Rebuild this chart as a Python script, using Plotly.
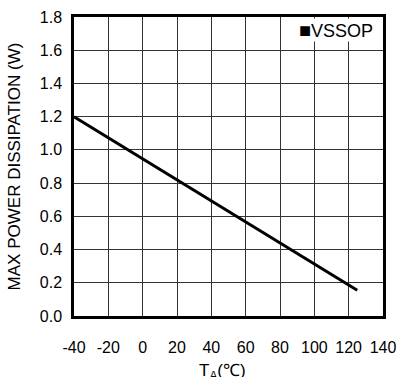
import plotly.graph_objects as go

# derating curve (ambient temperature vs max power dissipation)
temp_c = [-40, 125]
power_w = [1.2, 0.155]

x_ticks = [-40, -20, 0, 20, 40, 60, 80, 100, 120, 140]
y_ticks = [0.0, 0.2, 0.4, 0.6, 0.8, 1.0, 1.2, 1.4, 1.6, 1.8]
series_name = "VSSOP"
x_title = "T<sub>A</sub>(℃)"

FONT = "Liberation Sans, Arial, sans-serif"

fig = go.Figure()
fig.add_trace(go.Scatter(
    x=temp_c, y=power_w, mode="lines",
    line=dict(color="black", width=3),
    showlegend=False, hoverinfo="skip",
))

fig.update_layout(
    width=396, height=377,
    margin=dict(l=74, r=13, t=17, b=61, autoexpand=False),
    paper_bgcolor="white", plot_bgcolor="white",
    font=dict(family=FONT, size=16, color="black"),
)
fig.update_xaxes(
    range=[-40, 140], tickvals=x_ticks, ticktext=[str(v) for v in x_ticks],
    showgrid=True, gridcolor="#333333", gridwidth=1,
    showline=True, linecolor="black", linewidth=2.5, mirror=True,
    zeroline=False, ticks="", ticklabelstandoff=15, ticklabeloverflow="allow",
    automargin=False,
)
fig.update_yaxes(
    range=[0, 1.8], tickvals=y_ticks, ticktext=[f"{v:.1f}" for v in y_ticks],
    showgrid=True, gridcolor="#333333", gridwidth=1,
    showline=True, linecolor="black", linewidth=2.5, mirror=True,
    zeroline=False, ticks="", ticklabelstandoff=6,
    title=dict(text="MAX POWER DISSIPATION (W)", font=dict(size=17), standoff=15),
    automargin=False,
)

# x title sits lower than plotly allows inside the margin, so place it by hand
fig.add_annotation(
    xref="paper", yref="paper", x=0.48, y=0, xanchor="center", yanchor="middle",
    yshift=-56, text=x_title, showarrow=False,
    font=dict(family=FONT, size=17, color="black"),
)

# legend box drawn as a text label with a white background
fig.add_annotation(
    xref="paper", yref="paper", x=1, y=1, xanchor="right", yanchor="top",
    xshift=-9, yshift=-1,
    text="<span style='font-size:20px'>■</span>" + series_name,
    showarrow=False, bgcolor="white", borderpad=0,
    font=dict(family=FONT, size=18, color="black"),
)

fig.write_html("out.html", config={"displayModeBar": False},
               post_script="document.body.style.margin='0';")
